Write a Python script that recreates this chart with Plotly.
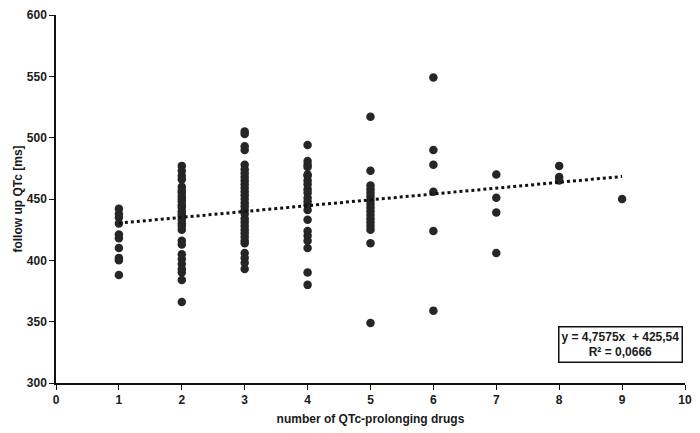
import plotly.graph_objects as go

col1 = [442, 438, 435, 430, 421, 418, 410, 402, 400, 388]
col2 = [477, 473, 469, 466, 460, 457, 455, 452, 450, 448, 445, 443, 440, 438, 436,
        433, 430, 428, 425, 416, 413, 405, 401, 397, 393, 390, 384, 366]
col3 = [505, 503, 493, 490, 478, 474, 471, 468, 465, 462, 459, 456, 453, 450, 447,
        444, 441, 438, 434, 431, 428, 425, 422, 419, 416, 414, 406, 402, 398, 393]
col4 = [494, 481, 478, 476, 470, 469, 465, 462, 458, 455, 451, 448, 445, 441,
        433, 424, 420, 416, 410, 390, 380]
col5 = [517, 473, 461, 458, 455, 452, 449, 446, 443, 440, 437, 434, 431, 428, 425,
        414, 349]
col6 = [549, 490, 478, 456, 424, 359]
col7 = [470, 451, 439, 406]
col8 = [477, 468, 465]
col9 = [450]

columns = [col1, col2, col3, col4, col5, col6, col7, col8, col9]
drug_counts = [1, 2, 3, 4, 5, 6, 7, 8, 9]

slope = 4.7575
intercept = 425.54
trend_x = [1, 9]
eq_text = "y = 4,7575x  + 425,54<br>R² = 0,0666"

xs, ys = [], []
for n, vals in zip(drug_counts, columns):
    xs += [n] * len(vals)
    ys += vals

font = dict(family="Liberation Sans, Arial, sans-serif", color="#1a1a1a", weight="bold")

fig = go.Figure()
fig.add_trace(go.Scatter(
    x=xs, y=ys, mode="markers",
    marker=dict(size=8.5, color="#262626"),
    showlegend=False,
))
fig.add_trace(go.Scatter(
    x=trend_x, y=[slope * t + intercept for t in trend_x], mode="lines",
    line=dict(color="#111111", width=3, dash="dot"),
    showlegend=False,
))

fig.add_annotation(
    x=8.98, y=331, xref="x", yref="y",
    text=eq_text, showarrow=False,
    font=dict(size=12, **font),
    bordercolor="#111111", borderwidth=1.5, borderpad=2,
    bgcolor="white", align="center",
)

fig.update_layout(
    width=700, height=433,
    margin=dict(l=56, r=14, t=8, b=50),
    plot_bgcolor="white", paper_bgcolor="white",
    font=dict(size=12, **font),
)
fig.update_xaxes(
    range=[0, 10], tickvals=list(range(0, 11)),
    showgrid=False, zeroline=False,
    showline=True, linecolor="#111111", linewidth=1.5,
    ticks="outside", ticklen=5, tickcolor="#111111",
    tickfont=dict(size=12, **font),
    title=dict(text="number of QTc-prolonging drugs", font=dict(size=12, **font), standoff=8),
)
fig.update_yaxes(
    range=[300, 600], tickvals=list(range(300, 601, 50)),
    showgrid=False, zeroline=False,
    showline=True, linecolor="#111111", linewidth=1.5,
    ticks="outside", ticklen=5, tickcolor="#111111",
    tickfont=dict(size=12, **font),
    title=dict(text="follow up QTc [ms]", font=dict(size=12, **font), standoff=2),
)

fig.write_html("out.html")
